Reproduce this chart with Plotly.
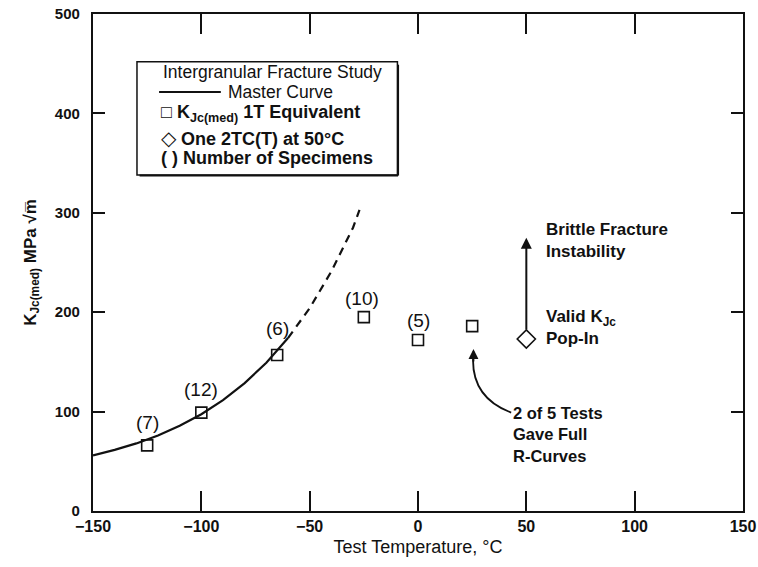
import plotly.graph_objects as go

# ---- data ----
test_temp = [-125, -100, -65, -25, 0, 25]
kjc_med = [66, 99, 157, 195, 172, 186]
specimen_labels = ["(7)", "(12)", "(6)", "(10)", "(5)"]
label_temp = [-125, -100, -65, -26, 0]
label_k = [89, 122, 184, 214, 192]

popin_temp = [50]
popin_k = [173]

master_temp_solid = [-150, -140, -130, -120, -110, -100, -90, -80, -70, -60]
master_k_solid = [56, 61.5, 68, 76, 85.7, 97.4, 111.5, 128.6, 149.2, 174]
master_temp_dash = [-60, -50, -40, -30, -27]
master_k_dash = [174, 204, 241, 285, 303]

x_ticks = [-150, -100, -50, 0, 50, 100, 150]
x_tick_text = ["\u2212150", "\u2212100", "\u221250", "0", "50", "100", "150"]
y_ticks = [0, 100, 200, 300, 400, 500]

FONT = "Arial, Liberation Sans, Helvetica, sans-serif"
BLACK = "#111111"

fig = go.Figure()

fig.add_trace(go.Scatter(x=master_temp_solid, y=master_k_solid, mode="lines",
                         line=dict(color=BLACK, width=2.2), showlegend=False, hoverinfo="skip"))
fig.add_trace(go.Scatter(x=master_temp_dash, y=master_k_dash, mode="lines",
                         line=dict(color=BLACK, width=2.2, dash="8px,6px"), showlegend=False, hoverinfo="skip"))
fig.add_trace(go.Scatter(x=test_temp, y=kjc_med, mode="markers",
                         marker=dict(symbol="square-open", size=11, color=BLACK, line=dict(width=1.6, color=BLACK)),
                         showlegend=False))
fig.add_trace(go.Scatter(x=popin_temp, y=popin_k, mode="markers",
                         marker=dict(symbol="diamond-open", size=14, color=BLACK, line=dict(width=1.6, color=BLACK)),
                         showlegend=False))

annotations = []
for t, k, s in zip(label_temp, label_k, specimen_labels):
    annotations.append(dict(x=t, y=k, text=s, showarrow=False,
                            font=dict(family=FONT, size=19, color=BLACK)))

# vertical arrow from pop-in diamond
annotations.append(dict(x=50, y=275, ax=50, ay=181, axref="x", ayref="y", xref="x", yref="y",
                        text="", showarrow=True, arrowhead=2, arrowsize=1.1, arrowwidth=2, arrowcolor=BLACK))
annotations.append(dict(x=58, y=272, xanchor="left", yanchor="middle", align="left", showarrow=False,
                        text="<b>Brittle Fracture<br>Instability</b>", font=dict(family=FONT, size=17, color=BLACK)))
annotations.append(dict(x=58, y=185, xanchor="left", yanchor="middle", align="left", showarrow=False,
                        text="<b>Valid K<sub>Jc</sub><br>Pop-In</b>", font=dict(family=FONT, size=17, color=BLACK)))
annotations.append(dict(x=43, y=77, xanchor="left", yanchor="middle", align="left", showarrow=False,
                        text="<b>2 of 5 Tests<br>Gave Full<br>R-Curves</b>", font=dict(family=FONT, size=16.5, color=BLACK)))
# arrowhead for the curved arrow
annotations.append(dict(x=25.6, y=163, ax=0, ay=14, xref="x", yref="y", text="", showarrow=True,
                        arrowhead=2, arrowsize=1.1, arrowwidth=1.8, arrowcolor=BLACK))

# legend box content
annotations.append(dict(x=-118.5, y=441.5, xanchor="left", yanchor="middle", showarrow=False,
                        text="Intergranular Fracture Study", font=dict(family=FONT, size=17.5, color=BLACK)))
annotations.append(dict(x=-88.5, y=421.5, xanchor="left", yanchor="middle", showarrow=False,
                        text="Master Curve", font=dict(family=FONT, size=17.5, color=BLACK)))
annotations.append(dict(x=-119.5, y=400, xanchor="left", yanchor="middle", showarrow=False,
                        text="□ <b>K<sub>Jc(med)</sub> 1T Equivalent</b>", font=dict(family=FONT, size=18, color=BLACK)))
annotations.append(dict(x=-119.5, y=375, xanchor="left", yanchor="middle", showarrow=False,
                        text="<span style='font-size:20px'>◇</span> <b>One 2TC(T) at 50°C</b>", font=dict(family=FONT, size=18, color=BLACK)))
annotations.append(dict(x=-119.5, y=355, xanchor="left", yanchor="middle", showarrow=False,
                        text="<b>( ) Number of Specimens</b>", font=dict(family=FONT, size=18, color=BLACK)))

shapes = [
    dict(type="rect", xref="x", yref="y", x0=-129.7, x1=-9.5, y0=338, y1=452,
         line=dict(color=BLACK, width=1.5), fillcolor="white", layer="below"),
    # shadow edges
    dict(type="line", xref="x", yref="y", x0=-9.2, x1=-9.2, y0=337.5, y1=449, line=dict(color=BLACK, width=2)),
    dict(type="line", xref="x", yref="y", x0=-128.5, x1=-9.2, y0=337.5, y1=337.5, line=dict(color=BLACK, width=2)),
    # master curve legend line
    dict(type="line", xref="x", yref="y", x0=-119.5, x1=-91, y0=421.5, y1=421.5, line=dict(color=BLACK, width=2)),
    # curved arrow
    dict(type="path", xref="x", yref="y", path="M 43,99 Q 23.5,115 25.6,160",
         line=dict(color=BLACK, width=1.8)),
]

fig.update_layout(
    width=758, height=567,
    margin=dict(l=93, r=15, t=14, b=56),
    paper_bgcolor="white", plot_bgcolor="white",
    font=dict(family=FONT, size=14, color=BLACK),
    annotations=annotations, shapes=shapes,
    showlegend=False,
    xaxis=dict(range=[-150, 150], tickvals=x_ticks, ticktext=x_tick_text,
               ticks="inside", ticklen=20, tickwidth=2, tickcolor=BLACK,
               showline=True, linewidth=2.2, linecolor=BLACK, mirror="ticks",
               showgrid=False, zeroline=False, automargin=False, ticklabeloverflow="allow",
               tickfont=dict(family=FONT, size=16, color=BLACK, weight="bold"),
               title=dict(text="Test Temperature, °C", font=dict(family=FONT, size=18, color=BLACK), standoff=6)),
    yaxis=dict(range=[0, 500], tickvals=y_ticks,
               ticks="inside", ticklen=12, tickwidth=2, tickcolor=BLACK,
               showline=True, linewidth=2.2, linecolor=BLACK, mirror="ticks",
               showgrid=False, zeroline=False, ticklabelstandoff=8, automargin=False, ticklabeloverflow="allow",
               tickfont=dict(family=FONT, size=15, color=BLACK, weight="bold"),
               title=dict(text="<b>K<sub>Jc(med)</sub> MPa √m\u0305</b>", font=dict(family=FONT, size=17, color=BLACK), standoff=14)),
)

fig.write_html("out.html",
               config={"displayModeBar": False},
               post_script="document.body.style.margin='0';document.body.style.overflow='hidden';")
